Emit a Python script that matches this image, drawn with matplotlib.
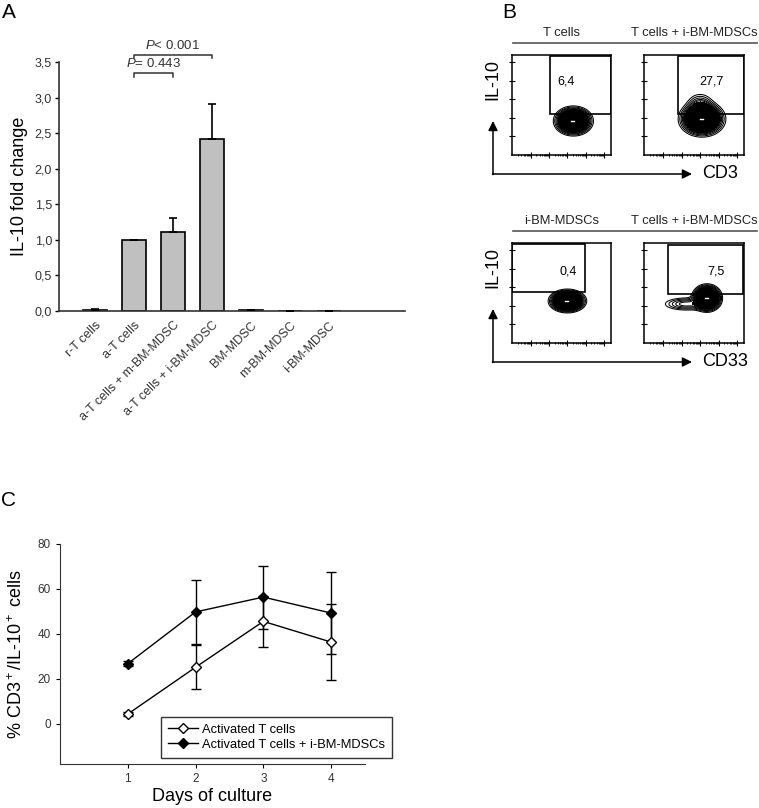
import numpy as np
import matplotlib.pyplot as plt
from matplotlib.patches import Rectangle

plt.rcParams['font.family'] = ['Liberation Sans', 'DejaVu Sans']
plt.rcParams['mathtext.fontset'] = 'custom'
plt.rcParams['mathtext.rm'] = 'Liberation Sans'
plt.rcParams['mathtext.it'] = 'Liberation Sans:italic'
plt.rcParams['mathtext.default'] = 'regular'

W, H = 759, 808

# --- panel A: IL-10 fold change
groups = ['r-T cells', 'a-T cells', 'a-T cells + m-BM-MDSC', 'a-T cells + i-BM-MDSC',
          'BM-MDSC', 'm-BM-MDSC', 'i-BM-MDSC']
fold = [0.02, 1.0, 1.11, 2.42, 0.015, 0.005, 0.005]
fold_err = [0.005, 0.0, 0.20, 0.49, 0.005, 0.002, 0.002]
fold_ticks = [0.0, 0.5, 1.0, 1.5, 2.0, 2.5, 3.0, 3.5]
p_labels = ['= 0.443', '< 0.001']
p_pairs = [(1, 2), (1, 3)]
p_heights = [3.345, 3.60]

# --- panel B: flow cytometry (gate %, gate box, density blobs)
flow_titles = [['T cells', 'T cells + i-BM-MDSCs'], ['i-BM-MDSCs', 'T cells + i-BM-MDSCs']]
flow_xlabels = ['CD3', 'CD33']
gate_pct = [['6,4', '27,7'], ['0,4', '7,5']]
gate_box = [[(0.38, 0.41, 1.0, 0.99), (0.34, 0.41, 1.0, 0.99)],
            [(0.0, 0.51, 0.74, 0.99), (0.24, 0.49, 0.99, 0.98)]]
gate_text_pos = [[(0.55, 0.73), (0.68, 0.73)], [(0.57, 0.72), (0.72, 0.72)]]
# each component: cx, cy, sx, sy, weight
blobs = [[[(0.62, 0.34, 0.078, 0.058, 1.0)],
          [(0.58, 0.36, 0.092, 0.07, 1.0), (0.56, 0.50, 0.07, 0.065, 0.12)]],
         [[(0.56, 0.42, 0.075, 0.046, 1.0)],
          [(0.63, 0.45, 0.06, 0.055, 1.0), (0.42, 0.39, 0.12, 0.035, 0.15)]]]

# --- panel C: time course
days = [1, 2, 3, 4]
act_t = [4.4, 25.2, 45.6, 36.4]
act_t_err = [0.7, 9.7, 11.4, 17.0]
act_t_mdsc = [26.8, 49.8, 56.4, 49.3]
act_t_mdsc_err = [1.0, 14.3, 14.0, 18.3]
c_yticks = [0, 20, 40, 60, 80]
c_labels = ['Activated T cells', 'Activated T cells + i-BM-MDSCs']


def px_axes(fig, l, t, r, b):
    return fig.add_axes([l / W, 1 - b / H, (r - l) / W, (b - t) / H])


fig = plt.figure(figsize=(W / 100, H / 100), dpi=100)
ov = fig.add_axes([0, 0, 1, 1])
ov.set_xlim(0, W)
ov.set_ylim(H, 0)
ov.axis('off')

for lab, (x, y) in zip('ABC', [(9, 12), (509, 12), (9, 500)]):
    ov.text(x, y, lab, fontsize=15, ha='center', va='center')

# ---------------- A
axA = px_axes(fig, 59, 62, 405, 311)
xs = np.arange(len(groups))
axA.bar(xs, fold, width=0.62, color='#c0c0c0', edgecolor='black', linewidth=1.2, zorder=2)
axA.errorbar(xs, fold, yerr=[np.zeros(len(fold)), fold_err], fmt='none', ecolor='black',
             elinewidth=1.2, capsize=3, capthick=1.2, zorder=3)
axA.set_xlim(-0.92, 7.95)
axA.set_ylim(0, 3.5)
axA.set_yticks(fold_ticks)
axA.set_yticklabels([f'{v:.1f}'.replace('.', ',') for v in fold_ticks], fontsize=9, color='#333333')
axA.set_xticks(xs)
axA.set_xticklabels(groups, rotation=45, ha='right', rotation_mode='anchor', fontsize=9, color='#333333')
axA.tick_params(axis='x', length=0, pad=6)
axA.tick_params(axis='y', length=3, width=1, pad=2)
for s in ['top', 'right']:
    axA.spines[s].set_visible(False)
for s in ['left', 'bottom']:
    axA.spines[s].set_linewidth(1.2)
    axA.spines[s].set_color('#333333')
axA.set_ylabel('IL-10 fold change', fontsize=13)
axA.yaxis.set_label_coords(-0.09, 0.5)
for (i, j), yv, lab in zip(p_pairs, p_heights, p_labels):
    axA.plot([i, i, j, j], [yv - 0.05, yv, yv, yv - 0.05], color='#333333', lw=1.1, clip_on=False)
    axA.text((i + j) / 2, yv + 0.04, r'$\it{P}$' + lab, ha='center', va='bottom', fontsize=9.5,
             color='#333333', clip_on=False)

# ---------------- B
gx, gy = np.meshgrid(np.linspace(0, 1, 300), np.linspace(0, 1, 300))
q = np.array([1.0, 0.93, 0.87, 0.82, 0.78])
line_levels = np.sort(np.exp(-0.5 * (2.6 * q) ** 2))
fill_level = np.exp(-0.5 * (2.6 * 0.74) ** 2)

box_x = [(512, 611), (644, 744)]
box_y = [(55, 155), (243, 343)]
major = [0.19, 0.375, 0.56, 0.745, 0.93]
minor = [m + 0.185 * np.log10(k) for m in [0.005] + major[:-1] for k in range(2, 10)]
minor = [m for m in minor if 0 < m < 1]

for r in range(2):
    t, b = box_y[r]
    for c in range(2):
        l, rr = box_x[c]
        ax = px_axes(fig, l, t, rr, b)
        z = np.zeros_like(gx)
        for cx, cy, sx, sy, w in blobs[r][c]:
            z += w * np.exp(-0.5 * (((gx - cx) / sx) ** 2 + ((gy - cy) / sy) ** 2))
        z /= z.max()
        ax.contourf(gx, gy, z, levels=[fill_level, 1.01], colors=['black'])
        ax.contour(gx, gy, z, levels=line_levels, colors='black', linewidths=0.75)
        cx, cy = blobs[r][c][0][:2]
        ax.plot([cx - 0.02, cx + 0.01], [cy, cy], color='white', lw=1)
        x0, y0, x1, y1 = gate_box[r][c]
        ax.add_patch(Rectangle((x0, y0), x1 - x0, y1 - y0, fill=False, ec='black', lw=1.2))
        ax.text(*gate_text_pos[r][c], gate_pct[r][c], fontsize=9, ha='center', va='center')
        ax.set_xlim(0, 1)
        ax.set_ylim(0, 1)
        ax.set_xticks(major)
        ax.set_yticks(major)
        ax.set_xticks(minor, minor=True)
        ax.set_xticklabels([])
        ax.set_yticklabels([])
        ax.tick_params(which='major', direction='inout', length=4, width=0.8)
        ax.tick_params(which='minor', direction='inout', length=2, width=0.6)
        for s in ax.spines.values():
            s.set_linewidth(1.1)
        ov.text((l + rr) / 2, t - 22, flow_titles[r][c], fontsize=9.3, ha='center', va='center',
                color='#222222')
    ov.plot([513, 757], [t - 12, t - 12], color='#555555', lw=1.2)
    ov.text(493, t + 25, 'IL-10', rotation=90, fontsize=13, ha='center', va='center')
    corner_y = b + 19
    ov.annotate('', xy=(493, b - 34), xytext=(493, corner_y + 0.6),
                arrowprops=dict(arrowstyle='-|>', color='black', lw=1.1, mutation_scale=14,
                                shrinkA=0, shrinkB=0))
    ov.annotate('', xy=(692, corner_y), xytext=(492.4, corner_y),
                arrowprops=dict(arrowstyle='-|>', color='black', lw=1.1, mutation_scale=14,
                                shrinkA=0, shrinkB=0))
    ov.text(702, corner_y, flow_xlabels[r], fontsize=13, ha='left', va='center')

# ---------------- C
axC = px_axes(fig, 60, 544, 365, 764)
e1 = axC.errorbar(days, act_t, yerr=act_t_err, color='black', lw=1, marker='D', ms=5,
                  mfc='white', mec='black', mew=1, capsize=3.5, elinewidth=1, zorder=3)
e2 = axC.errorbar(days, act_t_mdsc, yerr=act_t_mdsc_err, color='black', lw=1, marker='D', ms=5,
                  mfc='black', mec='black', capsize=3.5, elinewidth=1, zorder=3)
axC.set_xlim(0, 4.5)
axC.set_ylim(-17.8, 80)
axC.set_xticks(days)
axC.set_yticks(c_yticks)
axC.tick_params(labelsize=8.5, labelcolor='#333333', length=3, width=0.8)
for s in ['top', 'right']:
    axC.spines[s].set_visible(False)
for s in ['left', 'bottom']:
    axC.spines[s].set_color('#333333')
axC.set_xlabel('Days of culture', fontsize=13)
axC.xaxis.set_label_coords(0.5, -0.11)
axC.set_ylabel('% CD3$^+$/IL-10$^+$ cells', fontsize=13)
axC.yaxis.set_label_coords(-0.11, 0.5)
leg = axC.legend([e1[0], e2[0]], c_labels, loc='lower left', bbox_to_anchor=(0.331, 0.027),
                 fontsize=9.3, frameon=True, fancybox=False, edgecolor='black', handlelength=2.3,
                 handletextpad=0.35, borderpad=0.55, labelspacing=0.25, borderaxespad=0)
leg.get_frame().set_linewidth(1)

fig.savefig('out.png', dpi=100)
